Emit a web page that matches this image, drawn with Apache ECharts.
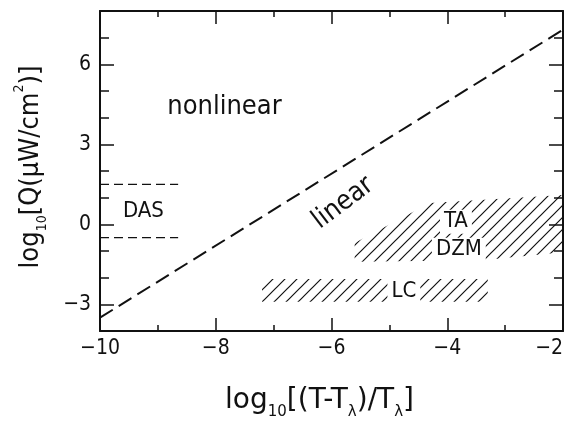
<!DOCTYPE html>
<html>
<head>
<meta charset="utf-8">
<script src="https://cdn.jsdelivr.net/npm/echarts@6/dist/echarts.min.js"></script>
<style>html,body{margin:0;padding:0;background:#fff;overflow:hidden;}#c{width:572px;height:425px;}</style>
</head>
<body>
<div id="c"></div>
<script>
// ---- data ----
var xTicks = [-10, -8, -6, -4, -2];
var yTicks = [-3, 0, 3, 6];
// linear / nonlinear boundary (dashed line)
var boundaryX = [-10, -2];
var boundaryY = [-3.5, 7.3];
// DAS range (two dashed horizontal lines)
var dasX = [-10, -8.65];
var dasUpperY = [1.5, 1.5];
var dasLowerY = [-0.5, -0.5];
// hatched regions (polygon vertices, data units)
var taRegionX = [-5.6, -5.6, -4.3, -2.0, -2.0, -3.4];
var taRegionY = [-1.4, -0.7, 0.8, 1.1, -1.05, -1.35];
var lcRegionX = [-7.2, -7.2, -3.3, -3.3];
var lcRegionY = [-2.9, -2.05, -2.05, -2.9];
// text annotations
var annoText = ['nonlinear', 'linear', 'DAS', 'TA', 'DZM', 'LC'];
var annoX = [-7.85, -5.8, -9.25, -3.85, -3.8, -4.75];
var annoY = [4.4, 0.8, 0.5, 0.1, -0.95, -2.5];

function zip(a, b) { return a.map(function (v, i) { return [v, b[i]]; }); }

// hatch pattern (style only)
var pc = document.createElement('canvas');
var S = 12;
pc.width = S; pc.height = S;
var g = pc.getContext('2d');
g.strokeStyle = '#111';
g.lineWidth = 1.2;
g.beginPath();
g.moveTo(-1, S + 1); g.lineTo(S + 1, -1);
g.moveTo(-1, 1); g.lineTo(1, -1);
g.moveTo(S - 1, S + 1); g.lineTo(S + 1, S - 1);
g.stroke();

function polySeries(xs, ys) {
  var pts = zip(xs, ys);
  return {
    type: 'custom',
    xAxisIndex: 0, yAxisIndex: 0,
    data: pts,
    silent: true,
    z: 1,
    renderItem: function (params, api) {
      if (params.dataIndex !== 0) return null;
      var p = pts.map(function (d) { return api.coord(d); });
      return {
        type: 'polygon',
        shape: { points: p },
        style: { fill: { image: pc, repeat: 'repeat' }, stroke: null }
      };
    }
  };
}

var FONT = '"DejaVu Sans Condensed", "Liberation Sans Narrow", sans-serif';
var NFONT = '"DejaVu Sans", sans-serif';
var black = '#111';

function xAx(pos, labels) {
  return {
    type: 'value', position: pos, min: -10, max: -2, interval: 2,
    axisLine: { show: true, onZero: false, lineStyle: { color: black, width: 2 } },
    axisTick: { show: true, inside: true, length: 13, lineStyle: { color: black, width: 1.5 } },
    minorTick: { show: true, splitNumber: 2, length: 6, lineStyle: { color: black, width: 1.5 } },
    axisLabel: { show: labels, margin: 7, fontFamily: FONT, fontSize: 21, color: black,
      alignMaxLabel: 'right',
      formatter: function (v) { return String(v).replace('-', '\u2212'); } },
    splitLine: { show: false }
  };
}
function yAxMajor(pos, labels) {
  return {
    type: 'value', position: pos, min: -4, max: 8, interval: 1,
    axisLine: { show: true, onZero: false, lineStyle: { color: black, width: 2 } },
    axisTick: { show: true, inside: true, length: 14, customValues: yTicks, lineStyle: { color: black, width: 1.5 } },
    axisLabel: { show: labels, margin: 9, fontFamily: FONT, fontSize: 21, color: black, customValues: yTicks,
      formatter: function (v) { return String(v).replace('-', '\u2212'); } },
    splitLine: { show: false }
  };
}
function yAxMinor(pos) {
  return {
    type: 'value', position: pos, min: -4, max: 8, interval: 1,
    axisLine: { show: false },
    axisTick: { show: true, inside: true, length: 9, lineStyle: { color: black, width: 1.5 } },
    axisLabel: { show: false },
    splitLine: { show: false }
  };
}

var xMain = xAx('bottom', true);
xMain.name = '{a|log}{s|10}{a|[(T-T}{s|\u03bb}{a|)/T}{s|\u03bb}{a|]}';
xMain.nameLocation = 'middle';
xMain.nameGap = 50;
xMain.nameTextStyle = {
  padding: [0, 24, 0, 0],
  rich: {
    a: { fontFamily: NFONT, fontSize: 28, color: black, verticalAlign: 'bottom', lineHeight: 34 },
    s: { fontFamily: NFONT, fontSize: 15, color: black, verticalAlign: 'bottom', lineHeight: 34, padding: [0, 0, -5, 0] }
  }
};

var yMain = yAxMajor('left', true);
yMain.name = '{a|log}{s|10}{a|[Q(\u03bcW/cm}{p|2}{a|)]}';
yMain.nameLocation = 'middle';
yMain.nameGap = 56;
yMain.nameTextStyle = {
  padding: [0, 0, 0, 8],
  rich: {
    a: { fontFamily: FONT, fontSize: 27, color: black, verticalAlign: 'bottom', lineHeight: 32 },
    s: { fontFamily: FONT, fontSize: 14, color: black, verticalAlign: 'bottom', lineHeight: 32, padding: [0, 0, -5, 0] },
    p: { fontFamily: FONT, fontSize: 14, color: black, verticalAlign: 'top', lineHeight: 32 }
  }
};

var annoItems = annoText.map(function (t, i) { return [annoX[i], annoY[i]]; });
var annoSeries = {
  type: 'custom', xAxisIndex: 0, yAxisIndex: 0, z: 5, silent: true,
  data: annoItems,
  renderItem: function (params, api) {
    var i = params.dataIndex;
    var t = annoText[i];
    var p = api.coord([api.value(0), api.value(1)]);
    var boxed = (t === 'TA' || t === 'DZM' || t === 'LC');
    var size = (t === 'nonlinear' || t === 'linear') ? 27 : 22;
    return {
      type: 'text',
      x: p[0], y: p[1],
      rotation: t === 'linear' ? 37 * Math.PI / 180 : 0,
      style: {
        text: t, fill: black, font: size + 'px ' + FONT,
        align: 'center', verticalAlign: 'middle',
        backgroundColor: boxed ? '#fff' : null,
        padding: boxed ? [1, 4, 1, 4] : 0
      }
    };
  }
};

var chart = echarts.init(document.getElementById('c'), null, { renderer: 'canvas' });
chart.setOption({
  animation: false,
  backgroundColor: '#fff',
  grid: { left: 100, right: 9, top: 11, bottom: 80, containLabel: false },
  xAxis: [xMain, xAx('top', false)],
  yAxis: [yMain, yAxMinor('left'), yAxMajor('right', false), yAxMinor('right')],
  series: [
    polySeries(taRegionX, taRegionY),
    polySeries(lcRegionX, lcRegionY),
    {
      type: 'line', data: zip(boundaryX, boundaryY), symbol: 'none', z: 3,
      lineStyle: { color: black, width: 2, type: [15, 7] }
    },
    {
      type: 'line', data: zip(dasX, dasUpperY), symbol: 'none', z: 3,
      lineStyle: { color: black, width: 1.3, type: [9, 5] }
    },
    {
      type: 'line', data: zip(dasX, dasLowerY), symbol: 'none', z: 3,
      lineStyle: { color: black, width: 1.3, type: [9, 5] }
    },
    annoSeries
  ]
});
</script>
</body>
</html>
